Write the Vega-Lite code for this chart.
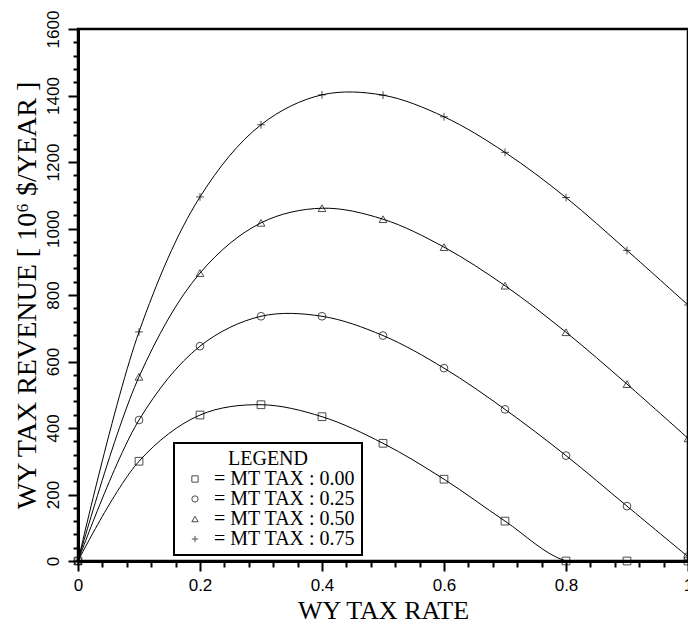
{
  "$schema": "https://vega.github.io/schema/vega-lite/v6.json",
  "width": 610,
  "height": 532,
  "autosize": {"type": "none"},
  "padding": {"left": 78, "top": 29, "right": 0, "bottom": 66},
  "background": "white",
  "config": {
    "view": {"stroke": "black", "strokeWidth": 2.5},
    "axis": {
      "domainColor": "black", "domainWidth": 3,
      "tickColor": "black", "tickWidth": 2,
      "labelColor": "black", "titleColor": "black",
      "labelFont": "Liberation Sans", "labelFontSize": 17,
      "titleFont": "Liberation Serif", "titleFontSize": 26, "titleFontWeight": "normal",
      "grid": false, "labelOverlap": false, "labelFlush": false, "labelBound": false
    },
    "legend": {
      "orient": "none", "legendX": 96, "legendY": 414,
      "strokeColor": "black", "strokeWidth": 2, "fillColor": "white", "padding": 6,
      "titleFont": "Liberation Serif", "titleFontSize": 20, "titleFontWeight": "normal", "titleColor": "black",
      "titleAnchor": "middle", "titlePadding": 0,
      "labelFont": "Liberation Serif", "labelFontSize": 20, "labelColor": "black",
      "symbolStrokeColor": "black", "symbolSize": 40, "symbolStrokeWidth": 1,
      "symbolOffset": 5,
      "rowPadding": 0, "labelOffset": 9
    }
  },
  "data": {"values": [
    {"tax": "0.00", "rate": 0.0, "rev": 0},
    {"tax": "0.00", "rate": 0.1, "rev": 300},
    {"tax": "0.00", "rate": 0.2, "rev": 439},
    {"tax": "0.00", "rate": 0.3, "rev": 470},
    {"tax": "0.00", "rate": 0.4, "rev": 434},
    {"tax": "0.00", "rate": 0.5, "rev": 354},
    {"tax": "0.00", "rate": 0.6, "rev": 246},
    {"tax": "0.00", "rate": 0.7, "rev": 120},
    {"tax": "0.00", "rate": 0.8, "rev": 0},
    {"tax": "0.00", "rate": 0.9, "rev": 0},
    {"tax": "0.00", "rate": 1.0, "rev": 0},
    {"tax": "0.25", "rate": 0.0, "rev": 0},
    {"tax": "0.25", "rate": 0.1, "rev": 424},
    {"tax": "0.25", "rate": 0.2, "rev": 646},
    {"tax": "0.25", "rate": 0.3, "rev": 736},
    {"tax": "0.25", "rate": 0.4, "rev": 736},
    {"tax": "0.25", "rate": 0.5, "rev": 678},
    {"tax": "0.25", "rate": 0.6, "rev": 580},
    {"tax": "0.25", "rate": 0.7, "rev": 456},
    {"tax": "0.25", "rate": 0.8, "rev": 317},
    {"tax": "0.25", "rate": 0.9, "rev": 165},
    {"tax": "0.25", "rate": 1.0, "rev": 13},
    {"tax": "0.50", "rate": 0.0, "rev": 0},
    {"tax": "0.50", "rate": 0.1, "rev": 554},
    {"tax": "0.50", "rate": 0.2, "rev": 866},
    {"tax": "0.50", "rate": 0.3, "rev": 1017},
    {"tax": "0.50", "rate": 0.4, "rev": 1061},
    {"tax": "0.50", "rate": 0.5, "rev": 1028},
    {"tax": "0.50", "rate": 0.6, "rev": 944},
    {"tax": "0.50", "rate": 0.7, "rev": 828},
    {"tax": "0.50", "rate": 0.8, "rev": 688},
    {"tax": "0.50", "rate": 0.9, "rev": 532},
    {"tax": "0.50", "rate": 1.0, "rev": 369},
    {"tax": "0.75", "rate": 0.0, "rev": 0},
    {"tax": "0.75", "rate": 0.1, "rev": 689},
    {"tax": "0.75", "rate": 0.2, "rev": 1095},
    {"tax": "0.75", "rate": 0.3, "rev": 1312},
    {"tax": "0.75", "rate": 0.4, "rev": 1402},
    {"tax": "0.75", "rate": 0.5, "rev": 1401},
    {"tax": "0.75", "rate": 0.6, "rev": 1336},
    {"tax": "0.75", "rate": 0.7, "rev": 1229},
    {"tax": "0.75", "rate": 0.8, "rev": 1093},
    {"tax": "0.75", "rate": 0.9, "rev": 934},
    {"tax": "0.75", "rate": 1.0, "rev": 770}
  ]},
  "encoding": {
    "x": {
      "field": "rate", "type": "quantitative",
      "scale": {"domain": [0, 1], "nice": false},
      "axis": {
        "title": "WY TAX RATE",
        "values": [0, 0.04, 0.08, 0.12, 0.16, 0.2, 0.24, 0.28, 0.32, 0.36, 0.4, 0.44, 0.48, 0.52, 0.56, 0.6, 0.64, 0.68, 0.72, 0.76, 0.8, 0.84, 0.88, 0.92, 0.96, 1.0],
        "labelExpr": "round(datum.value*100) % 20 === 0 ? format(datum.value, '.1~f') : ''",
        "tickSize": {"condition": {"test": "round(datum.value*100) % 20 === 0", "value": 10}, "value": 6},
        "labelPadding": 6,
        "titlePadding": 4
      }
    },
    "y": {
      "field": "rev", "type": "quantitative",
      "scale": {"domain": [0, 1600], "nice": false},
      "axis": {
        "title": "WY TAX REVENUE [ 10⁶ $/YEAR ]",
        "titleFontSize": 28,
        "values": [0, 40, 80, 120, 160, 200, 240, 280, 320, 360, 400, 440, 480, 520, 560, 600, 640, 680, 720, 760, 800, 840, 880, 920, 960, 1000, 1040, 1080, 1120, 1160, 1200, 1240, 1280, 1320, 1360, 1400, 1440, 1480, 1520, 1560, 1600],
        "labelExpr": "datum.value % 200 === 0 ? datum.label : ''",
        "format": "d",
        "tickSize": {"condition": {"test": "datum.value % 200 === 0", "value": 10}, "value": 5},
        "labelAngle": 270,
        "labelAlign": "center",
        "labelBaseline": "bottom",
        "labelPadding": 6,
        "titlePadding": 3
      }
    }
  },
  "layer": [
    {
      "mark": {"type": "line", "interpolate": "catmull-rom", "color": "black", "strokeWidth": 1, "clip": true},
      "encoding": {"detail": {"field": "tax"}}
    },
    {
      "mark": {"type": "point", "filled": false, "color": "black", "size": 60, "strokeWidth": 1},
      "encoding": {
        "shape": {
          "field": "tax", "type": "nominal",
          "scale": {"domain": ["0.00", "0.25", "0.50", "0.75"], "range": ["square", "circle", "triangle-up", "M-1,0H1M0,-1V1"]},
          "legend": {"title": "LEGEND", "labelExpr": "'= MT TAX : ' + datum.label"}
        }
      }
    }
  ]
}
